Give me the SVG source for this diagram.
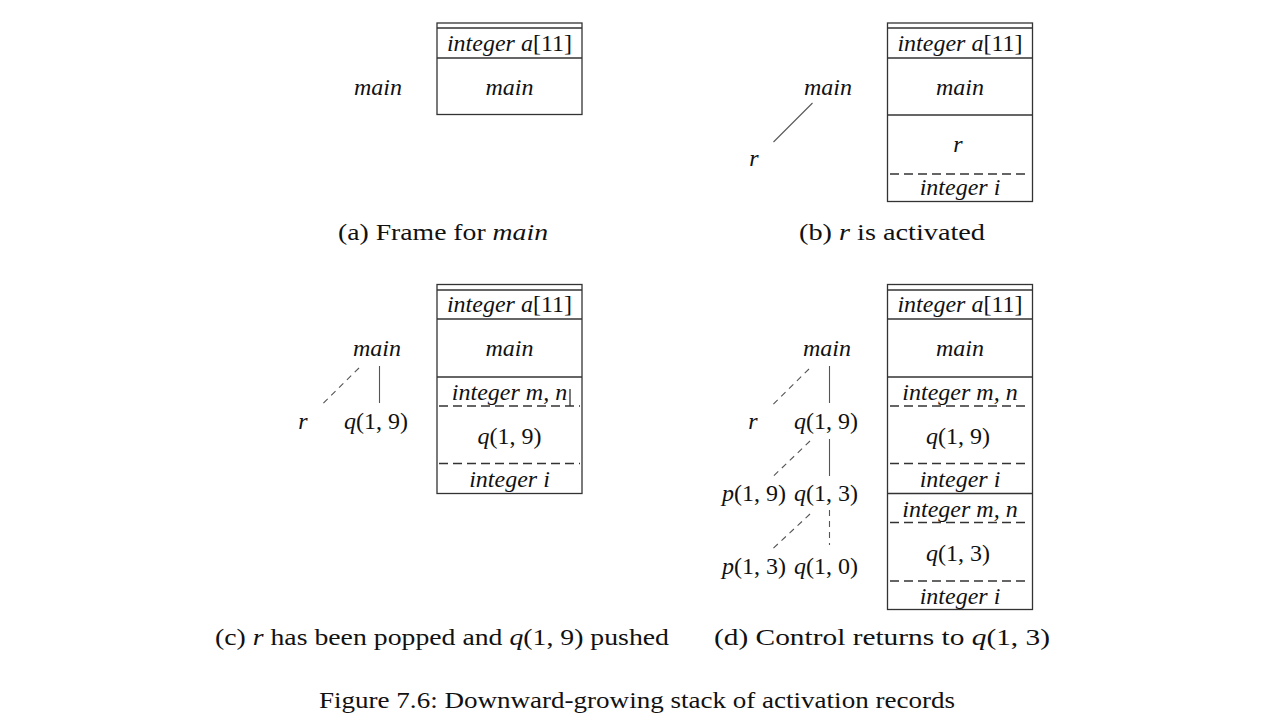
<svg xmlns="http://www.w3.org/2000/svg" width="1280" height="720" viewBox="0 0 1280 720">
<style>
text{font-family:"Liberation Serif","DejaVu Serif",serif;font-size:24px;fill:#111;text-anchor:middle}
.i{font-style:italic}
.box{fill:none;stroke:#333;stroke-width:1.3}
.sep{stroke:#333;stroke-width:1.3}
.dsep{stroke:#333;stroke-width:1.3;stroke-dasharray:9 5}
.con{stroke:#555;stroke-width:1.1;fill:none}
.dcon{stroke:#555;stroke-width:1.1;fill:none;stroke-dasharray:6 5}
</style>
<rect width="1280" height="720" fill="#fff"/>

<!-- (a) -->
<g id="stack-a">
<rect class="box" x="437" y="23" width="145" height="91.5"/>
<line class="sep" x1="437" y1="28" x2="582" y2="28"/>
<line class="sep" x1="437" y1="58" x2="582" y2="58"/>
<text x="509.5" y="51"><tspan class="i">integer a</tspan>[11]</text>
<text x="509.5" y="95" class="i">main</text>
</g>
<g id="tree-a">
<text x="378" y="95" class="i">main</text>
</g>
<text id="cap-a" x="443" y="240" textLength="210" lengthAdjust="spacingAndGlyphs">(a) Frame for <tspan class="i">main</tspan></text>

<!-- (b) -->
<g id="stack-b">
<rect class="box" x="887.5" y="23" width="145" height="178.5"/>
<line class="sep" x1="887.5" y1="28" x2="1032.5" y2="28"/>
<line class="sep" x1="887.5" y1="58" x2="1032.5" y2="58"/>
<line class="sep" x1="887.5" y1="115" x2="1032.5" y2="115"/>
<line class="dsep" x1="890" y1="174" x2="1030" y2="174"/>
<text x="960" y="51"><tspan class="i">integer a</tspan>[11]</text>
<text x="960" y="95" class="i">main</text>
<text x="958" y="152" class="i">r</text>
<text x="960" y="195" class="i">integer i</text>
</g>
<g id="tree-b">
<text x="828" y="95" class="i">main</text>
<text x="754" y="166" class="i">r</text>
</g>
<g id="connectors-b">
<line class="con" x1="812.5" y1="103" x2="773.5" y2="142"/>
</g>
<text id="cap-b" x="892" y="240" textLength="186" lengthAdjust="spacingAndGlyphs">(b) <tspan class="i">r</tspan> is activated</text>

<!-- (c) -->
<g id="stack-c">
<rect class="box" x="437" y="284.5" width="145" height="209"/>
<line class="sep" x1="437" y1="290" x2="582" y2="290"/>
<line class="sep" x1="437" y1="319" x2="582" y2="319"/>
<line class="sep" x1="437" y1="377" x2="582" y2="377"/>
<line class="dsep" x1="439" y1="406" x2="580" y2="406"/>
<line class="dsep" x1="439" y1="463.5" x2="580" y2="463.5"/>
<line class="sep" x1="570" y1="389" x2="570" y2="406"/>
<text x="509.5" y="400" class="i">integer m, n</text>
<text x="509.5" y="312"><tspan class="i">integer a</tspan>[11]</text>
<text x="509.5" y="356" class="i">main</text>
<text x="509.5" y="444"><tspan class="i">q</tspan>(1, 9)</text>
<text x="509.5" y="487" class="i">integer i</text>
</g>
<g id="tree-c">
<text x="377" y="356" class="i">main</text>
<text x="303" y="429" class="i">r</text>
<text x="376" y="429"><tspan class="i">q</tspan>(1, 9)</text>
</g>
<g id="connectors-c">
<line class="dcon" x1="359" y1="368" x2="322.5" y2="404"/>
<line class="con" x1="379.5" y1="366" x2="379.5" y2="403"/>
</g>
<text id="cap-c" x="442" y="645" textLength="454" lengthAdjust="spacingAndGlyphs">(c) <tspan class="i">r</tspan> has been popped and <tspan class="i">q</tspan>(1, 9) pushed</text>

<!-- (d) -->
<g id="stack-d">
<rect class="box" x="887.5" y="284.5" width="145" height="325"/>
<line class="sep" x1="887.5" y1="290" x2="1032.5" y2="290"/>
<line class="sep" x1="887.5" y1="319" x2="1032.5" y2="319"/>
<line class="sep" x1="887.5" y1="377" x2="1032.5" y2="377"/>
<line class="dsep" x1="890" y1="406" x2="1030" y2="406"/>
<line class="dsep" x1="890" y1="463.5" x2="1030" y2="463.5"/>
<line class="sep" x1="887.5" y1="493.5" x2="1032.5" y2="493.5"/>
<line class="dsep" x1="890" y1="522.5" x2="1030" y2="522.5"/>
<line class="dsep" x1="890" y1="581" x2="1030" y2="581"/>
<text x="960" y="312"><tspan class="i">integer a</tspan>[11]</text>
<text x="960" y="356" class="i">main</text>
<text x="960" y="400" class="i">integer m, n</text>
<text x="958" y="444"><tspan class="i">q</tspan>(1, 9)</text>
<text x="960" y="487" class="i">integer i</text>
<text x="960" y="517" class="i">integer m, n</text>
<text x="958" y="561"><tspan class="i">q</tspan>(1, 3)</text>
<text x="960" y="604" class="i">integer i</text>
</g>
<g id="tree-d">
<text x="827" y="356" class="i">main</text>
<text x="753" y="429" class="i">r</text>
<text x="826" y="429"><tspan class="i">q</tspan>(1, 9)</text>
<text x="754" y="501"><tspan class="i">p</tspan>(1, 9)</text>
<text x="826" y="501"><tspan class="i">q</tspan>(1, 3)</text>
<text x="754" y="574"><tspan class="i">p</tspan>(1, 3)</text>
<text x="826" y="574"><tspan class="i">q</tspan>(1, 0)</text>
</g>
<g id="connectors-d">
<line class="dcon" x1="809" y1="369" x2="772.5" y2="405"/>
<line class="con" x1="829.5" y1="366" x2="829.5" y2="403"/>
<line class="dcon" x1="810" y1="441" x2="772.5" y2="477"/>
<line class="con" x1="829.5" y1="439" x2="829.5" y2="476"/>
<line class="dcon" x1="810" y1="514" x2="772.5" y2="549"/>
<line class="dcon" x1="829.5" y1="510" x2="829.5" y2="545"/>
</g>
<text id="cap-d" x="882" y="645" textLength="336" lengthAdjust="spacingAndGlyphs">(d) Control returns to <tspan class="i">q</tspan>(1, 3)</text>

<text id="figcap" x="637" y="708" textLength="636" lengthAdjust="spacingAndGlyphs">Figure 7.6: Downward-growing stack of activation records</text>
</svg>
